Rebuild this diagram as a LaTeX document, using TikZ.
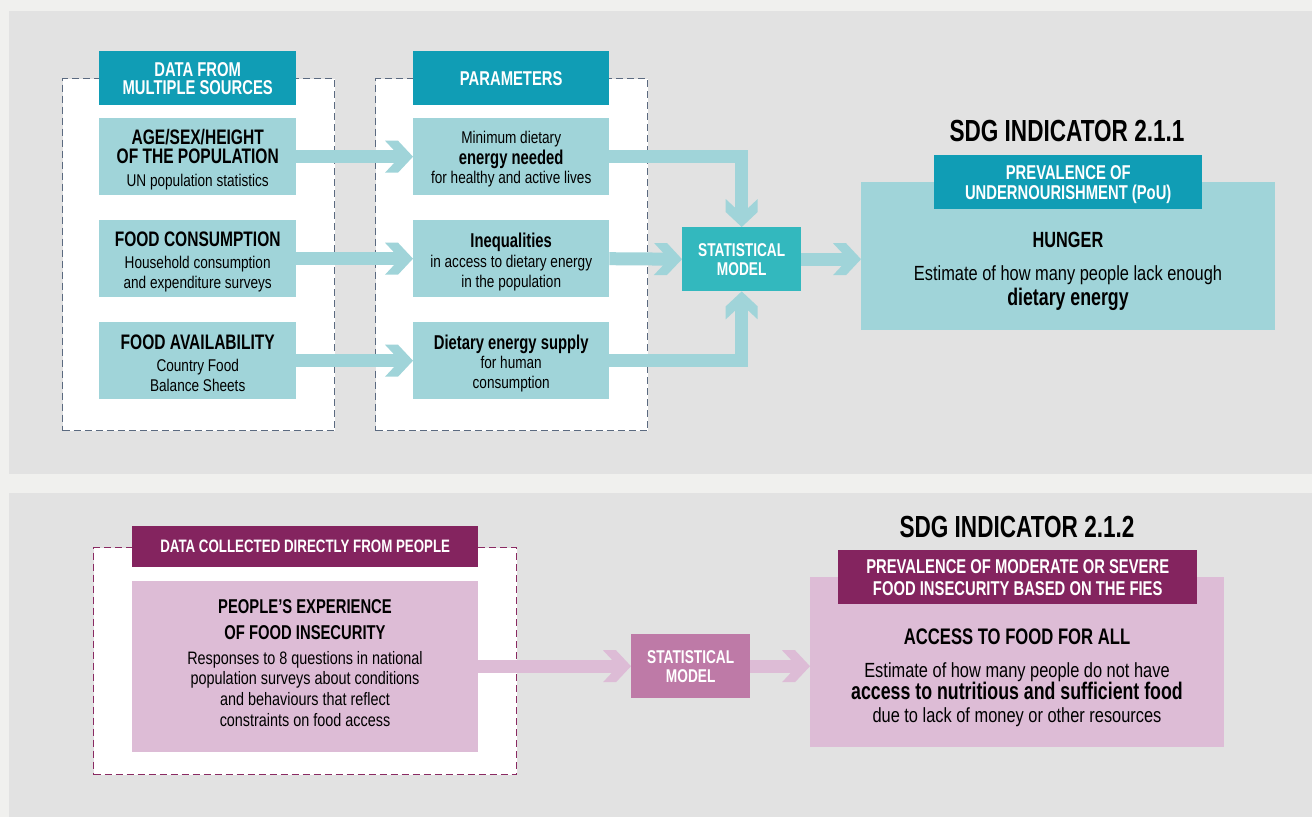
\documentclass[tikz,border=0pt]{standalone}
\usepackage{fontspec}
\setmainfont{Liberation Sans}[FakeStretch=0.8]
\newfontfamily\hbfam{Liberation Sans}[FakeStretch=0.74]
\newcommand{\hb}{\hbfam\bfseries}
\usetikzlibrary{arrows.meta}
\definecolor{outerbg}{HTML}{F0F0EE}
\definecolor{panelbg}{HTML}{E2E2E2}
\definecolor{dkteal}{HTML}{109DB5}
\definecolor{ltteal}{HTML}{A0D4D9}
\definecolor{smteal}{HTML}{33B8BE}
\definecolor{dashblue}{HTML}{5B6A80}
\definecolor{dkmag}{HTML}{84245F}
\definecolor{ltpink}{HTML}{DDBCD6}
\definecolor{smpink}{HTML}{BE7AA7}
\definecolor{dashpink}{HTML}{8A2A62}
\pgfdeclarearrow{
  name=Chev,
  setup code={
    \pgfarrowssettipend{0pt}
    \pgfarrowssetlineend{-10pt}
    \pgfarrowssetbackend{-28pt}
    \pgfarrowssetvisualbackend{-28pt}
    \pgfarrowshullpoint{0pt}{0pt}
    \pgfarrowshullpoint{-28pt}{16pt}
    \pgfarrowshullpoint{-28pt}{-16pt}
  },
  drawing code={
    \pgfpathmoveto{\pgfqpoint{0pt}{0pt}}
    \pgfpathlineto{\pgfqpoint{-15pt}{16pt}}
    \pgfpathlineto{\pgfqpoint{-28pt}{16pt}}
    \pgfpathlineto{\pgfqpoint{-13pt}{0pt}}
    \pgfpathlineto{\pgfqpoint{-28pt}{-16pt}}
    \pgfpathlineto{\pgfqpoint{-15pt}{-16pt}}
    \pgfpathclose
    \pgfusepathqfill
  }
}
\newcommand{\tb}[1]{{\hb\fontsize{21}{18}\selectfont #1}}
\newcommand{\pb}[1]{{\hb\fontsize{20}{18}\selectfont #1}}
\newcommand{\lb}[1]{{\hb\fontsize{24}{20}\selectfont #1}}
\begin{document}
\begin{tikzpicture}[x=1pt,y=-1pt,
  box/.style={rectangle, inner sep=0pt, anchor=north west, align=center, text=black},
  txt/.style={inner sep=0pt, align=center, text=black},
  smalltxt/.style={txt, font=\fontsize{17}{18}\selectfont},
  smallbox/.style={box, fill=ltteal, minimum width=197pt, minimum height=77pt},
  hdr/.style={box, fill=dkteal, text=white, font=\hb\fontsize{20}{18}\selectfont},
  dashbox/.style={box, fill=white, draw=dashblue, dash pattern=on 7pt off 4pt, line width=1.3pt},
  model/.style={box, fill=smteal, text=white, minimum width=119pt, minimum height=64pt, font=\hb\fontsize{18.5}{19}\selectfont},
  conn/.style={draw=ltteal, line width=13pt, line join=miter, -{Chev}},
  pconn/.style={draw=ltpink, line width=13pt, line join=miter, -{Chev}},
  sdg/.style={font=\hb\fontsize{30.5}{30}\selectfont, inner sep=0pt, text=black}
]
\useasboundingbox (0,0) rectangle (1312,817);
\fill[outerbg] (0,0) rectangle (1312,817);
\fill[panelbg] (9,11) rectangle (1312,474);
\fill[panelbg] (9,493) rectangle (1312,817);

% ---------- top panel ----------
\node[dashbox, minimum width=272pt, minimum height=352pt] (d1) at (62,78) {};
\node[dashbox, minimum width=272pt, minimum height=352pt] (d2) at (375,78) {};

\node[hdr, minimum width=197pt, minimum height=54pt] (h1) at (99,51) {DATA FROM\\MULTIPLE SOURCES};
\node[hdr, minimum width=196pt, minimum height=54pt] (h2) at (413,51) {PARAMETERS};

\node[smallbox] (a1) at (99,118) {};
\node[smallbox] (a2) at (99,220) {};
\node[smallbox] (a3) at (99,322) {};
\node[smallbox, minimum width=196pt] (p1) at (413,118) {};
\node[smallbox, minimum width=196pt] (p2) at (413,220) {};
\node[smallbox, minimum width=196pt] (p3) at (413,322) {};

\node[smalltxt] (a1t) at ([yshift=-3pt]a1.center) {\tb{AGE/SEX/HEIGHT}\\[0.5pt]\tb{OF THE POPULATION}\\[5pt]UN population statistics};
\node[smalltxt] (a2t) at ([yshift=-3.5pt]a2.center) {\tb{FOOD CONSUMPTION}\\[4pt]Household consumption\\[2pt]and expenditure surveys};
\node[smalltxt] (a3t) at ([yshift=-2.5pt]a3.center) {\tb{FOOD AVAILABILITY}\\[4pt]Country Food\\[2pt]Balance Sheets};
\node[smalltxt] (p1t) at ([yshift=-2.5pt]p1.center) {Minimum dietary\\[1.5pt]\pb{energy needed}\\[1.5pt]for healthy and active lives};
\node[smalltxt] (p2t) at ([yshift=-3pt]p2.center) {\pb{Inequalities}\\[2pt]in access to dietary energy\\[2pt]in the population};
\node[smalltxt] (p3t) at ([yshift=-2.5pt]p3.center) {\pb{Dietary energy supply}\\[1.5pt]for human\\[1.5pt]consumption};

\node[model] (sm) at (682,227) {STATISTICAL\\MODEL};

\node[box, fill=ltteal, minimum width=414pt, minimum height=148pt] (hb) at (861,182) {};
\node[hdr, minimum width=268pt, minimum height=54pt] (h3) at (934,155) {};
\node[txt, text=white, font=\hb\fontsize{20}{20.5}\selectfont] (h3t) at ([yshift=-2.5pt]h3.center) {PREVALENCE OF\\UNDERNOURISHMENT (PoU)};
\node[sdg] (sdg1) at (1067,131) {SDG INDICATOR 2.1.1};
\node[txt, font=\fontsize{20.5}{20}\selectfont] (ht) at (1068,271.5)
  {{\hb\fontsize{22}{20}\selectfont HUNGER}\\[13pt]Estimate of how many people lack enough\\[2.5pt]\lb{dietary energy}};

\draw[conn] (a1.east) -- (p1.west);
\draw[conn] (a2.east) -- (p2.west);
\draw[conn] (a3.east) -- (p3.west);
\draw[conn] (p1.east) -| (sm.north);
\draw[conn] (p2.east) -- (sm.west);
\draw[conn] (p3.east) -| (sm.south);
\draw[conn] (sm.east) -- (sm.east -| hb.west);

% ---------- bottom panel ----------
\node[dashbox, draw=dashpink, minimum width=423pt, minimum height=227pt] (d3) at (93,547) {};
\node[hdr, fill=dkmag, minimum width=346pt, minimum height=41pt, font=\hb\fontsize{18}{18}\selectfont] (h4) at (132,526) {DATA COLLECTED DIRECTLY FROM PEOPLE};
\node[box, fill=ltpink, minimum width=346pt, minimum height=171pt] (pb) at (132,581) {};
\node[txt, font=\fontsize{18}{20.8}\selectfont] (pbt) at (305,663)
  {{\hb\fontsize{20}{20}\selectfont PEOPLE’S EXPERIENCE}\\[5pt]{\hb\fontsize{20}{20}\selectfont OF FOOD INSECURITY}\\[4pt]Responses to 8 questions in national\\population surveys about conditions\\and behaviours that reflect\\constraints on food access};

\node[model, fill=smpink] (spm) at (631,634) {STATISTICAL\\MODEL};

\node[box, fill=ltpink, minimum width=414pt, minimum height=170pt] (fb) at (810,577) {};
\node[hdr, fill=dkmag, minimum width=359pt, minimum height=54pt, font=\hb\fontsize{20}{22}\selectfont] (h5) at (838,550) {PREVALENCE OF MODERATE OR SEVERE\\FOOD INSECURITY BASED ON THE FIES};
\node[sdg] (sdg2) at (1017,527) {SDG INDICATOR 2.1.2};
\node[txt, font=\fontsize{20.5}{22.5}\selectfont] (ft) at (1017,678)
  {{\hb\fontsize{22.5}{20}\selectfont ACCESS TO FOOD FOR ALL}\\[10.5pt]Estimate of how many people do not have\\\lb{access to nutritious and sufficient food}\\[0.5pt]due to lack of money or other resources};

\draw[pconn] (pb.east |- spm.west) -- (spm.west);
\draw[pconn] (spm.east) -- (spm.east -| fb.west);
\end{tikzpicture}
\end{document}
